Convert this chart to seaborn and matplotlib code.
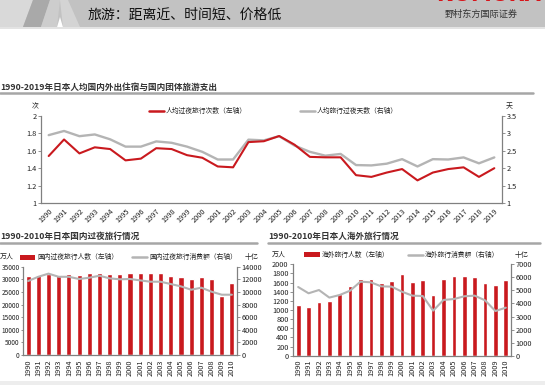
import numpy as np
import matplotlib
matplotlib.use("Agg")
import matplotlib.pyplot as plt
import seaborn as sns
from matplotlib.patches import Rectangle, Polygon
from matplotlib.lines import Line2D
from matplotlib.ticker import FuncFormatter

sns.set_style("white")
plt.rcParams['font.family'] = ['Noto Sans CJK SC', 'DejaVu Sans']
plt.rcParams['axes.unicode_minus'] = False

# ---------------- data ----------------
years_top = [str(y) for y in range(1990, 2020)]
trips_per_capita = [1.54, 1.73, 1.57, 1.64, 1.62, 1.49, 1.51, 1.63, 1.62, 1.55,
                    1.52, 1.42, 1.41, 1.70, 1.71, 1.77, 1.67, 1.53, 1.525, 1.525,
                    1.32, 1.30, 1.35, 1.39, 1.26, 1.35, 1.39, 1.41, 1.30, 1.40]
nights_per_capita = [2.95, 3.07, 2.92, 2.97, 2.83, 2.62, 2.62, 2.77, 2.73, 2.62,
                     2.47, 2.25, 2.25, 2.82, 2.80, 2.92, 2.65, 2.47, 2.36, 2.41,
                     2.09, 2.08, 2.13, 2.26, 2.05, 2.26, 2.25, 2.31, 2.14, 2.31]

years_bottom = [str(y) for y in range(1990, 2011)]
domestic_travelers = [31300, 31700, 32200, 31700, 32100, 31800, 32350, 32600, 32000, 32100,
                      32600, 32350, 32600, 32600, 31400, 30800, 30100, 30800, 30250, 23400,
                      28400]
domestic_spending = [11730, 12400, 12900, 12400, 12400, 12050, 12250, 12570, 12150, 12000,
                     12050, 11830, 11620, 11620, 11250, 10880, 10350, 10670, 10040, 9560,
                     9560]
overseas_travelers = [1100, 1060, 1175, 1190, 1350, 1530, 1670, 1680, 1580, 1640,
                      1780, 1620, 1650, 1330, 1680, 1740, 1750, 1720, 1600, 1550,
                      1660]
overseas_spending = [5260, 4780, 5030, 4450, 4650, 4980, 5670, 5620, 5310, 5290,
                     4900, 4600, 4570, 3450, 4270, 4340, 4550, 4600, 4240, 3420,
                     3680]

# ---------------- layout helpers ----------------
W, H = 545, 385
fig = plt.figure(figsize=(W / 100, H / 100), dpi=100)
fig.patch.set_facecolor('white')

def fx(x):
    return x / W

def fy(y):
    return 1 - y / H

def rect(x0, y0, x1, y1):
    return [x0 / W, 1 - y1 / H, (x1 - x0) / W, (y1 - y0) / H]

def poly(pts, color):
    fig.add_artist(Polygon([(fx(a), fy(b)) for a, b in pts], closed=True,
                           facecolor=color, edgecolor='none', transform=fig.transFigure))

RED = '#C9191E'
GRAY = '#B4B4B4'
SPINE = '#808080'
TXT = '#222222'

# ---------------- header ----------------
fig.add_artist(Rectangle((0, fy(27)), 1, 27 / H, facecolor='#C2C2C2', edgecolor='none',
                         transform=fig.transFigure))
poly([(0, 0), (33, 0), (23, 27), (0, 27)], '#D9D9D9')
poly([(33, 0), (50, 0), (41, 27), (23, 27)], '#A9A9A9')
poly([(50, 0), (60, 0), (57, 27), (41, 27)], '#CDCDCD')
poly([(60, 0), (68, 0), (80, 27), (63, 27)], '#D4D4D4')
poly([(57, 27.2), (63, 27.2), (60, 17)], '#FFFFFF')
fig.add_artist(Rectangle((0, fy(28.5)), 1, 1.5 / H, facecolor='#E3E3E3', edgecolor='none',
                         transform=fig.transFigure))
fig.text(fx(88), fy(15), "旅游：距离近、时间短、价格低", fontsize=10, color='#111111',
         ha='left', va='center', fontweight='medium')
fig.text(fx(488), fy(5), "NOMURA", fontsize=15, color='#D7141A', fontweight='bold',
         ha='center', va='bottom', family=['DejaVu Sans'])
fig.text(fx(481), fy(14.5), "野村东方国际证券", fontsize=6.6, color='#333333',
         ha='center', va='center')

# bottom light band
fig.add_artist(Rectangle((0, 0), 1, 4 / H, facecolor='#EDEDED', edgecolor='none',
                         transform=fig.transFigure))

def style_axes(ax, tw, lsize=5.3):
    for a in (ax, tw):
        for s in a.spines.values():
            s.set_visible(False)
        a.grid(False)
        a.set_xlabel('')
        a.set_ylabel('')
    ax.spines['left'].set_visible(True)
    ax.spines['bottom'].set_visible(True)
    tw.spines['right'].set_visible(True)
    for a, side in ((ax, 'left'), (ax, 'bottom'), (tw, 'right')):
        a.spines[side].set_color(SPINE)
        a.spines[side].set_linewidth(0.9)
    ax.tick_params(axis='both', direction='out', length=2, width=0.6, color=SPINE,
                   labelsize=5.3, labelcolor=TXT, pad=1.2)
    ax.tick_params(axis='y', labelsize=lsize)
    tw.tick_params(axis='y', direction='out', length=2, width=0.6, color=SPINE,
                   labelsize=5.3, labelcolor=TXT, pad=1.2)
    ax.tick_params(axis='x', pad=1)

fmt = FuncFormatter(lambda v, p: '%g' % v)

# ---------------- top chart ----------------
fig.text(fx(0), fy(87), "1990-2019年日本人均国内外出住宿与国内团体旅游支出", fontsize=6.2,
         fontweight='bold', color='#333333', ha='left', va='center')
fig.add_artist(Line2D([fx(0), fx(533)], [fy(93.3), fy(93.3)], color='#A6A6A6', lw=1.8,
                      transform=fig.transFigure))

ax1 = fig.add_axes(rect(41, 116, 502, 203))
tw1 = ax1.twinx()
x_top = np.arange(len(years_top))
sns.lineplot(x=x_top, y=nights_per_capita, ax=tw1, color=GRAY, lw=1.7)
sns.lineplot(x=x_top, y=trips_per_capita, ax=ax1, color=RED, lw=1.5)
ax1.set_zorder(tw1.get_zorder() + 1)
ax1.patch.set_visible(False)
ax1.set_xlim(-0.5, len(years_top) - 0.5)
ax1.set_ylim(1, 2)
tw1.set_ylim(1, 3.5)
ax1.set_yticks([1, 1.2, 1.4, 1.6, 1.8, 2])
tw1.set_yticks([1, 1.5, 2, 2.5, 3, 3.5])
ax1.yaxis.set_major_formatter(fmt)
tw1.yaxis.set_major_formatter(fmt)
style_axes(ax1, tw1)
ax1.set_xticks(x_top)
ax1.set_xticklabels(years_top, rotation=45, ha='right', rotation_mode='anchor', fontsize=5.3)

fig.text(fx(35.5), fy(106), "次", fontsize=5, color=TXT, ha='center', va='center')
fig.text(fx(509), fy(106), "天", fontsize=5, color=TXT, ha='center', va='center')
fig.add_artist(Line2D([fx(149), fx(164)], [fy(110.5), fy(110.5)], color=RED, lw=1.8,
                      transform=fig.transFigure))
fig.text(fx(166), fy(110.5), "人均过夜旅行次数（左轴）", fontsize=4.9, color=TXT,
         ha='left', va='center')
fig.add_artist(Line2D([fx(300), fx(315)], [fy(110.5), fy(110.5)], color=GRAY, lw=1.8,
                      transform=fig.transFigure))
fig.text(fx(317), fy(110.5), "人均旅行过夜天数（右轴）", fontsize=4.9, color=TXT,
         ha='left', va='center')

# ---------------- bottom left chart ----------------
fig.text(fx(0), fy(236.5), "1990-2010年日本国内过夜旅行情况", fontsize=6.2,
         fontweight='bold', color='#333333', ha='left', va='center')
fig.add_artist(Line2D([fx(0), fx(257)], [fy(243.3), fy(243.3)], color='#A6A6A6', lw=1.8,
                      transform=fig.transFigure))

x_bot = np.arange(len(years_bottom))
ax2 = fig.add_axes(rect(23, 266.7, 237, 355))
tw2 = ax2.twinx()
sns.barplot(x=x_bot, y=domestic_travelers, ax=ax2, color=RED, width=0.5,
            saturation=1, native_scale=True)
sns.lineplot(x=x_bot, y=domestic_spending, ax=tw2, color=GRAY, lw=1.5)
ax2.set_xlim(-0.5, len(years_bottom) - 0.5)
ax2.set_ylim(0, 35000)
tw2.set_ylim(0, 14000)
ax2.set_yticks(np.arange(0, 35001, 5000))
tw2.set_yticks(np.arange(0, 14001, 2000))
style_axes(ax2, tw2, lsize=4.7)
ax2.tick_params(axis='y', pad=0.6, length=1.8)
ax2.set_xticks(x_bot)
ax2.set_xticklabels(years_bottom, rotation=90, fontsize=5.3)

fig.text(fx(0), fy(257), "万人", fontsize=5, color=TXT, ha='left', va='center')
fig.text(fx(245), fy(257), "十亿", fontsize=5, color=TXT, ha='left', va='center')
fig.add_artist(Rectangle((fx(20), fy(259.5)), 15 / W, 5 / H, facecolor=RED, edgecolor='none',
                         transform=fig.transFigure))
fig.text(fx(37), fy(257), "国内过夜旅行人数（左轴）", fontsize=4.9, color=TXT,
         ha='left', va='center')
fig.add_artist(Line2D([fx(132), fx(147)], [fy(257), fy(257)], color=GRAY, lw=1.8,
                      transform=fig.transFigure))
fig.text(fx(149), fy(257), "国内过夜旅行消费额（右轴）", fontsize=4.9, color=TXT,
         ha='left', va='center')

# ---------------- bottom right chart ----------------
fig.text(fx(268), fy(236.5), "1990-2010年日本人海外旅行情况", fontsize=6.2,
         fontweight='bold', color='#333333', ha='left', va='center')
fig.add_artist(Line2D([fx(268), fx(540)], [fy(243.3), fy(243.3)], color='#A6A6A6', lw=1.8,
                      transform=fig.transFigure))

ax3 = fig.add_axes(rect(293, 264.3, 511, 355.7))
tw3 = ax3.twinx()
sns.barplot(x=x_bot, y=overseas_travelers, ax=ax3, color=RED, width=0.45,
            saturation=1, native_scale=True)
sns.lineplot(x=x_bot, y=overseas_spending, ax=tw3, color=GRAY, lw=1.5)
ax3.set_xlim(-0.5, len(years_bottom) - 0.5)
ax3.set_ylim(0, 2000)
tw3.set_ylim(0, 7000)
ax3.set_yticks(np.arange(0, 2001, 200))
tw3.set_yticks(np.arange(0, 7001, 1000))
style_axes(ax3, tw3)
ax3.set_xticks(x_bot)
ax3.set_xticklabels(years_bottom, rotation=90, fontsize=5.3)

fig.text(fx(272), fy(254.5), "万人", fontsize=5, color=TXT, ha='left', va='center')
fig.text(fx(515), fy(254.5), "十亿", fontsize=5, color=TXT, ha='left', va='center')
fig.add_artist(Rectangle((fx(304), fy(257)), 16 / W, 5 / H, facecolor=RED, edgecolor='none',
                         transform=fig.transFigure))
fig.text(fx(322), fy(254.5), "海外旅行人数（左轴）", fontsize=4.9, color=TXT,
         ha='left', va='center')
fig.add_artist(Line2D([fx(408), fx(423)], [fy(254.5), fy(254.5)], color=GRAY, lw=1.8,
                      transform=fig.transFigure))
fig.text(fx(425), fy(254.5), "海外旅行消费额（右轴）", fontsize=4.9, color=TXT,
         ha='left', va='center')

fig.savefig("out.png", dpi=100, facecolor='white')
